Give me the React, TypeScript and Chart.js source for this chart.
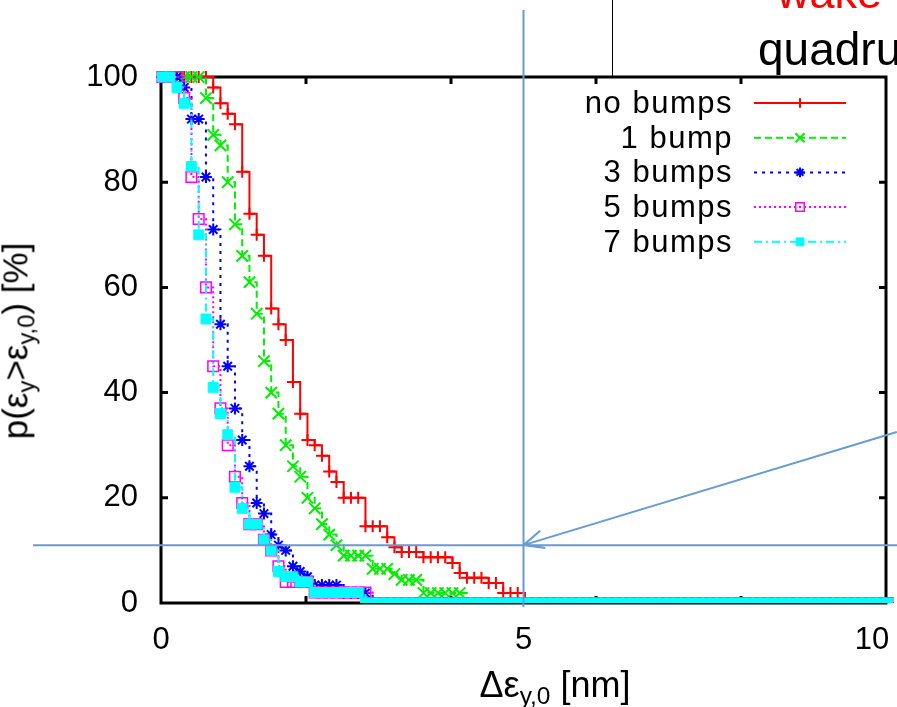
import React, { useEffect, useRef } from 'react';
import { Chart, registerables } from 'chart.js';
import { drawPoint } from 'chart.js/helpers';

Chart.register(...registerables);

// ---------- DATA ----------
const SERIES_LABELS = ['no bumps', '1 bump', '3 bumps', '5 bumps', '7 bumps'];

// x positions of the sampled points (nm)
const X_VALUES = [
  0.02, 0.12, 0.22, 0.32, 0.42, 0.52, 0.62, 0.72, 0.82, 0.92,
  1.02, 1.12, 1.22, 1.32, 1.42, 1.52, 1.62, 1.72, 1.82, 1.92,
  2.02, 2.12, 2.22, 2.32, 2.42, 2.52, 2.62, 2.72, 2.82, 2.92,
  3.02, 3.12, 3.22, 3.32, 3.42, 3.52, 3.62, 3.72, 3.82, 3.92,
  4.02, 4.12, 4.22, 4.32, 4.42, 4.52, 4.62, 4.72, 4.82, 4.92,
  5.02, 5.12, 5.22, 5.32, 5.42, 5.52, 5.62, 5.72, 5.82, 5.92,
  6.02, 6.12, 6.22, 6.32, 6.42, 6.52, 6.62, 6.72, 6.82, 6.92,
  7.02, 7.12, 7.22, 7.32, 7.42, 7.52, 7.62, 7.72, 7.82, 7.92,
  8.02, 8.12, 8.22, 8.32, 8.42, 8.52, 8.62, 8.72, 8.82, 8.92,
  9.02, 9.12, 9.22, 9.32, 9.42, 9.52, 9.62, 9.72, 9.82, 9.92,
  10.02,
];

const NO_BUMPS = [
  100, 100, 100, 100, 100, 100, 100, 98, 95, 93,
  91, 82, 74, 70, 66, 56, 53, 50, 42, 36,
  31, 30, 28, 25, 23, 20, 20, 20, 14.6, 14.6,
  14.6, 12.5, 10.6, 9.7, 9.7, 9.7, 8.7, 8.7, 8.7, 8.7,
  7.6, 5.7, 4.8, 4.8, 4.8, 3.8, 3.8, 1.9, 1.9, 1.9,
  0, 0, 0, 0, 0, 0, 0, 0, 0, 0,
  0, 0, 0, 0, 0, 0, 0, 0, 0, 0,
  0, 0, 0, 0, 0, 0, 0, 0, 0, 0,
  0, 0, 0, 0, 0, 0, 0, 0, 0, 0,
  0, 0, 0, 0, 0, 0, 0, 0, 0, 0,
  0,
];

const ONE_BUMP = [
  100, 100, 100, 100, 100, 100, 96, 89, 87, 80,
  72, 66, 61, 55, 46, 40, 36, 30, 26, 24,
  20, 18, 15, 13, 11, 9, 9, 9, 9, 6.5,
  6.5, 6.5, 5.5, 4.4, 4.4, 4.4, 1.9, 1.9, 1.9, 1.9,
  1.9, 1.9, 0, 0, 0, 0, 0, 0, 0, 0,
  0, 0, 0, 0, 0, 0, 0, 0, 0, 0,
  0, 0, 0, 0, 0, 0, 0, 0, 0, 0,
  0, 0, 0, 0, 0, 0, 0, 0, 0, 0,
  0, 0, 0, 0, 0, 0, 0, 0, 0, 0,
  0, 0, 0, 0, 0, 0, 0, 0, 0, 0,
  0,
];

const THREE_BUMPS = [
  100, 100, 100, 98, 92, 92, 81, 71, 53, 45,
  37, 31, 26, 19, 17, 13, 11, 10, 7, 6,
  5, 3.4, 3.4, 3.4, 3.4, 1.9, 1.9, 1.9, 1.9, 0,
  0, 0, 0, 0, 0, 0, 0, 0, 0, 0,
  0, 0, 0, 0, 0, 0, 0, 0, 0, 0,
  0, 0, 0, 0, 0, 0, 0, 0, 0, 0,
  0, 0, 0, 0, 0, 0, 0, 0, 0, 0,
  0, 0, 0, 0, 0, 0, 0, 0, 0, 0,
  0, 0, 0, 0, 0, 0, 0, 0, 0, 0,
  0, 0, 0, 0, 0, 0, 0, 0, 0, 0,
  0,
];

const FIVE_BUMPS = [
  100, 100, 100, 96, 81, 73, 60, 45, 37, 30,
  24, 19, 15, 15, 12, 10, 7, 4, 4, 4,
  4, 2, 2, 2, 2, 2, 2, 2, 2, 0,
  0, 0, 0, 0, 0, 0, 0, 0, 0, 0,
  0, 0, 0, 0, 0, 0, 0, 0, 0, 0,
  0, 0, 0, 0, 0, 0, 0, 0, 0, 0,
  0, 0, 0, 0, 0, 0, 0, 0, 0, 0,
  0, 0, 0, 0, 0, 0, 0, 0, 0, 0,
  0, 0, 0, 0, 0, 0, 0, 0, 0, 0,
  0, 0, 0, 0, 0, 0, 0, 0, 0, 0,
  0,
];

const SEVEN_BUMPS = [
  100, 100, 98, 95, 83, 70, 54, 41, 36, 32,
  22, 18, 15, 15, 12, 10, 6, 5, 5, 4,
  4, 2, 2, 2, 2, 2, 2, 2, 0, 0,
  0, 0, 0, 0, 0, 0, 0, 0, 0, 0,
  0, 0, 0, 0, 0, 0, 0, 0, 0, 0,
  0, 0, 0, 0, 0, 0, 0, 0, 0, 0,
  0, 0, 0, 0, 0, 0, 0, 0, 0, 0,
  0, 0, 0, 0, 0, 0, 0, 0, 0, 0,
  0, 0, 0, 0, 0, 0, 0, 0, 0, 0,
  0, 0, 0, 0, 0, 0, 0, 0, 0, 0,
  0,
];

const SERIES_VALUES = [NO_BUMPS, ONE_BUMP, THREE_BUMPS, FIVE_BUMPS, SEVEN_BUMPS];

const X_TICKS = [0, 5, 10];
const X_MINOR_TICKS = [2, 4, 6, 8];
const Y_TICKS = [0, 20, 40, 60, 80, 100];
const Y_MINOR_TICKS = [20, 40, 60, 80];

// annotation (data units)
const ANNOT_X = 5;
const ANNOT_Y = 11;
const ARROW_FROM = [10.15, 32.5];

// ---------- STYLES ----------
const FONT = '"Liberation Sans", Arial, Helvetica, sans-serif';
const SERIES_STYLES = [
  { color: '#ff0000', dash: [], pointStyle: 'cross', radius: 6, pbw: 2, fill: '#ff0000' },
  { color: '#00ee00', dash: [7, 4], pointStyle: 'crossRot', radius: 8, pbw: 2, fill: '#00ee00' },
  { color: '#0000ff', dash: [3, 5], pointStyle: 'star', radius: 6, pbw: 2, fill: '#0000ff' },
  { color: '#ff00ff', dash: [2, 3], pointStyle: 'rect', radius: 7.5, pbw: 1.5, fill: 'rgba(0,0,0,0)' },
  { color: '#00ffff', dash: [8, 4, 2, 4], pointStyle: 'rect', radius: 7, pbw: 1, fill: '#00ffff' },
];
const ANNOT_COLOR = '#679bd3';

const LEGEND_ROW0 = 103;
const LEGEND_STEP = 34.7;

const framePlugin = {
  id: 'frameTicks',
  beforeDraw(chart: any) {
    const xs = chart.scales.x;
    const items = xs.getLabelItems();
    const last = items[items.length - 1];
    if (last && last.options && last.options.translation) {
      last.options.translation[0] -= 14;
    }
  },
  beforeDatasetsDraw(chart: any) {
    const { ctx, chartArea: a, scales } = chart;
    ctx.save();
    ctx.strokeStyle = '#000';
    ctx.lineWidth = 3;
    ctx.strokeRect(a.left, a.top, a.right - a.left, a.bottom - a.top);
    ctx.beginPath();
    for (const v of X_MINOR_TICKS) {
      const px = scales.x.getPixelForValue(v);
      ctx.moveTo(px, a.bottom);
      ctx.lineTo(px, a.bottom - 7);
      ctx.moveTo(px, a.top);
      ctx.lineTo(px, a.top + 7);
    }
    for (const v of Y_MINOR_TICKS) {
      const py = scales.y.getPixelForValue(v);
      ctx.moveTo(a.left, py);
      ctx.lineTo(a.left + 7, py);
      ctx.moveTo(a.right, py);
      ctx.lineTo(a.right - 7, py);
    }
    ctx.stroke();
    ctx.restore();
  },
  afterDraw(chart: any) {
    const { ctx, scales, width } = chart;
    ctx.save();
    // legend samples
    chart.data.datasets.forEach((ds: any, i: number) => {
      const y = LEGEND_ROW0 + LEGEND_STEP * i;
      ctx.setLineDash(ds.borderDash || []);
      ctx.strokeStyle = ds.borderColor;
      ctx.lineWidth = ds.borderWidth;
      ctx.beginPath();
      ctx.moveTo(754, y);
      ctx.lineTo(846, y);
      ctx.stroke();
      ctx.setLineDash([]);
      ctx.strokeStyle = ds.pointBorderColor;
      ctx.fillStyle = ds.pointBackgroundColor;
      ctx.lineWidth = ds.pointBorderWidth;
      drawPoint(ctx, { pointStyle: ds.pointStyle, radius: ds.pointRadius * 0.8, borderWidth: ds.pointBorderWidth, rotation: 0 } as any, 800, y);
    });

    // thin black line at the top (part of the neighbouring panel)
    ctx.setLineDash([]);
    ctx.strokeStyle = '#000';
    ctx.lineWidth = 1;
    ctx.beginPath();
    ctx.moveTo(612.5, 0);
    ctx.lineTo(612.5, chart.chartArea.top);
    ctx.stroke();

    // annotations
    const ax = scales.x.getPixelForValue(ANNOT_X);
    const ay = scales.y.getPixelForValue(ANNOT_Y);
    ctx.strokeStyle = ANNOT_COLOR;
    ctx.lineWidth = 2;
    ctx.beginPath();
    ctx.moveTo(ax, 10);
    ctx.lineTo(ax, 607);
    ctx.moveTo(33, ay);
    ctx.lineTo(width, ay);
    const fx = scales.x.getPixelForValue(ARROW_FROM[0]);
    const fy = scales.y.getPixelForValue(ARROW_FROM[1]);
    ctx.moveTo(fx, fy);
    ctx.lineTo(ax, ay);
    const ang = Math.atan2(fy - ay, fx - ax);
    const hl = 22;
    const spread = 0.42;
    ctx.moveTo(ax + hl * Math.cos(ang - spread), ay + hl * Math.sin(ang - spread));
    ctx.lineTo(ax, ay);
    ctx.lineTo(ax + hl * Math.cos(ang + spread), ay + hl * Math.sin(ang + spread));
    ctx.stroke();
    ctx.restore();
  },
};

export default function App() {
  const canvasRef = useRef<HTMLCanvasElement | null>(null);

  useEffect(() => {
    const canvas = canvasRef.current;
    if (!canvas) return;
    const datasets = SERIES_VALUES.map((vals, i) => {
      const st = SERIES_STYLES[i];
      return {
        label: SERIES_LABELS[i],
        data: X_VALUES.map((x, k) => ({ x, y: vals[k] })).filter((p) => p.y !== undefined),
        borderColor: st.color,
        borderWidth: 2,
        borderDash: st.dash,
        stepped: true,
        fill: false,
        tension: 0,
        pointStyle: st.pointStyle,
        pointRadius: st.radius,
        pointBorderWidth: st.pbw,
        pointBorderColor: st.color,
        pointBackgroundColor: st.fill,
        pointHoverRadius: st.radius,
        order: 5 - i,
        clip: { left: false, top: false, right: false, bottom: 0 },
      };
    });

    const chart = new Chart(canvas, {
      type: 'line',
      data: { datasets } as any,
      options: {
        responsive: false,
        maintainAspectRatio: false,
        animation: false,
        devicePixelRatio: 1,
        events: [],
        layout: { padding: { top: 77, right: 11, left: 0, bottom: 0 } },
        plugins: {
          legend: { display: false },
          tooltip: { enabled: false },
          title: { display: false },
        },
        scales: {
          x: {
            type: 'linear',
            min: 0,
            max: 10,
            afterBuildTicks: (s: any) => {
              s.ticks = X_TICKS.map((v) => ({ value: v }));
            },
            afterFit: (s: any) => {
              s.height = 104;
              s.paddingLeft = 0;
              s.paddingRight = 0;
            },
            ticks: {
              font: { family: FONT, size: 31 },
              color: '#000',
              padding: 19,
              maxRotation: 0,
              autoSkip: false,
            },
            grid: { display: false, drawTicks: false },
            border: { display: false },
          },
          y: {
            type: 'linear',
            min: 0,
            max: 100,
            afterBuildTicks: (s: any) => {
              s.ticks = Y_TICKS.map((v) => ({ value: v }));
            },
            afterFit: (s: any) => {
              s.width = 161;
              s.paddingTop = 0;
              s.paddingBottom = 0;
            },
            ticks: {
              font: { family: FONT, size: 31 },
              color: '#000',
              padding: 23,
              autoSkip: false,
            },
            grid: { display: false, drawTicks: false },
            border: { display: false },
          },
        },
      } as any,
      plugins: [framePlugin],
    });
    return () => chart.destroy();
  }, []);

  const subStyle: React.CSSProperties = { fontSize: '0.68em', verticalAlign: '-0.3em' };

  return (
    <div
      style={{
        position: 'fixed',
        left: 0,
        top: 0,
        width: 897,
        height: 707,
        overflow: 'hidden',
        background: '#fff',
        fontFamily: FONT,
        color: '#000',
      }}
    >
      <canvas ref={canvasRef} width={897} height={707} style={{ position: 'absolute', left: 0, top: 0, width: 897, height: 707 }} />

      <div style={{ position: 'absolute', left: 777, top: -30, fontSize: 45, lineHeight: '45px', color: '#ff0000', whiteSpace: 'nowrap' }}>
        wake
      </div>
      <div style={{ position: 'absolute', left: 758, top: 26, fontSize: 46, lineHeight: '46px', whiteSpace: 'nowrap' }}>
        quadrupole
      </div>

      {SERIES_LABELS.map((lab, i) => (
        <div
          key={lab}
          style={{
            position: 'absolute',
            right: 164,
            top: LEGEND_ROW0 + LEGEND_STEP * i - 18,
            fontSize: 31,
            lineHeight: '36px',
            letterSpacing: '1.5px',
            whiteSpace: 'nowrap',
            textAlign: 'right',
          }}
        >
          {lab}
        </div>
      ))}

      <div
        style={{
          position: 'absolute',
          left: 21,
          top: 341,
          transform: 'translate(-50%, -50%) rotate(-90deg)',
          fontSize: 35,
          lineHeight: '40px',
          whiteSpace: 'nowrap',
        }}
      >
        p(ε<span style={subStyle}>y</span>&gt;ε<span style={subStyle}>y,0</span>) [%]
      </div>

      <div
        style={{
          position: 'absolute',
          left: 555,
          top: 665,
          transform: 'translateX(-50%)',
          fontSize: 36,
          lineHeight: '40px',
          whiteSpace: 'nowrap',
        }}
      >
        Δε<span style={subStyle}>y,0</span> [nm]
      </div>
    </div>
  );
}
